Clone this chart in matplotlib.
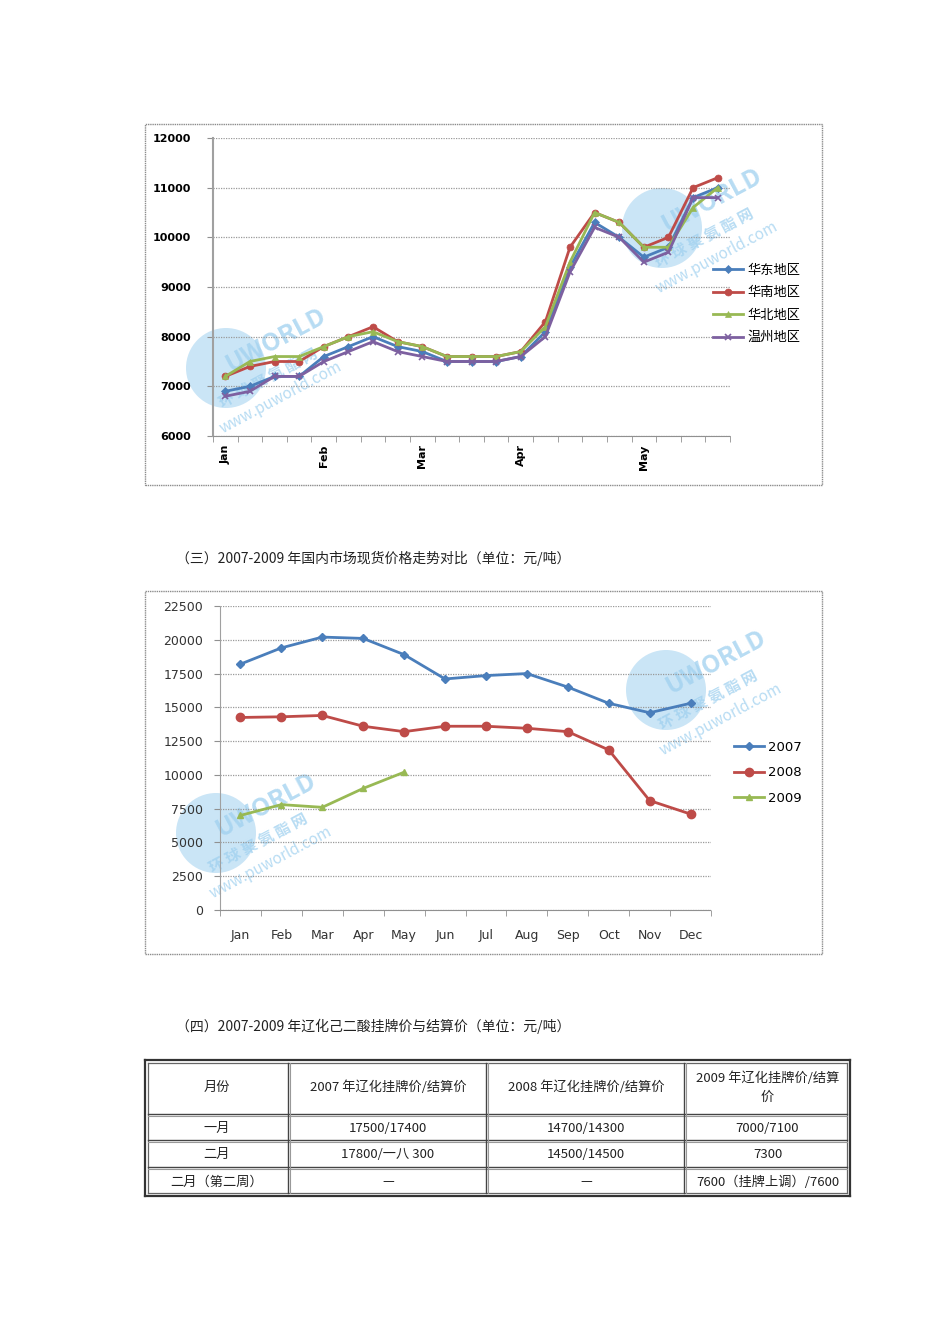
import matplotlib
matplotlib.use("Agg")
import matplotlib.pyplot as plt
from matplotlib.patches import Rectangle, Ellipse
from matplotlib.lines import Line2D

plt.rcParams['font.family'] = ['Noto Sans CJK SC', 'DejaVu Sans']

# ---------------- data ----------------
weeks = list(range(21))
week_labels = {0: "Jan", 4: "Feb", 8: "Mar", 12: "Apr", 17: "May"}
east = [6900, 7000, 7200, 7200, 7600, 7800, 8000, 7800, 7700, 7500, 7500,
        7500, 7600, 8100, 9400, 10300, 10000, 9600, 9800, 10800, 11000]
south = [7200, 7400, 7500, 7500, 7800, 8000, 8200, 7900, 7800, 7600, 7600,
         7600, 7700, 8300, 9800, 10500, 10300, 9800, 10000, 11000, 11200]
north = [7200, 7500, 7600, 7600, 7800, 8000, 8100, 7900, 7800, 7600, 7600,
         7600, 7700, 8200, 9500, 10500, 10300, 9800, 9800, 10600, 11000]
wenzhou = [6800, 6900, 7200, 7200, 7500, 7700, 7900, 7700, 7600, 7500, 7500,
           7500, 7600, 8000, 9300, 10200, 10000, 9500, 9700, 10800, 10800]
region_names = ["华东地区", "华南地区", "华北地区", "温州地区"]

months = ["Jan", "Feb", "Mar", "Apr", "May", "Jun", "Jul", "Aug", "Sep", "Oct", "Nov", "Dec"]
y2007 = [18200, 19400, 20200, 20100, 18900, 17100, 17350, 17500, 16500, 15300, 14600, 15300]
y2008 = [14250, 14300, 14400, 13600, 13200, 13600, 13600, 13450, 13200, 11850, 8100, 7100]
y2009 = [7000, 7800, 7600, 9000, 10200]
year_names = ["2007", "2008", "2009"]

caption3 = "（三）2007-2009 年国内市场现货价格走势对比（单位：元/吨）"
caption4 = "（四）2007-2009 年辽化己二酸挂牌价与结算价（单位：元/吨）"
table_header = ["月份", "2007 年辽化挂牌价/结算价", "2008 年辽化挂牌价/结算价", "2009 年辽化挂牌价/结算\n价"]
table_rows = [
    ["一月", "17500/17400", "14700/14300", "7000/7100"],
    ["二月", "17800/一八 300", "14500/14500", "7300"],
    ["二月（第二周）", "—", "—", "7600（挂牌上调）/7600"],
]

# ---------------- style ----------------
BLUE = "#4a7ebb"
RED = "#be4b48"
GREEN = "#98b954"
PURPLE = "#7d60a0"

W, H = 950, 1344
fig = plt.figure(figsize=(W / 100, H / 100), dpi=100)
fig.patch.set_facecolor("white")


def fx(px):
    return px / W


def fy(py):
    return 1 - py / H


def frame(x0, y0, x1, y1):
    fig.patches.append(Rectangle((fx(x0), fy(y1)), fx(x1) - fx(x0), fy(y0) - fy(y1),
                                 transform=fig.transFigure, fill=False,
                                 edgecolor="#8c8c8c", lw=1.0, linestyle=(0, (1, 0.6))))


def watermark(cx, cy):
    col = "#9fd0ef"
    fig.patches.append(Ellipse((fx(cx), fy(cy)), 80 / W, 80 / H, transform=fig.transFigure,
                               facecolor=col, edgecolor="none", alpha=0.55, zorder=-1))
    fig.text(fx(cx + 50), fy(cy - 28), "UWORLD", rotation=28, color=col, alpha=0.75,
             fontsize=18, fontweight="bold", ha="center", va="center", zorder=-1)
    fig.text(fx(cx + 42), fy(cy + 10), "环 球 聚 氨 酯 网", rotation=28, color=col, alpha=0.75,
             fontsize=11, fontweight="bold", ha="center", va="center", zorder=-1)
    fig.text(fx(cx + 55), fy(cy + 30), "www.puworld.com", rotation=28, color=col, alpha=0.75,
             fontsize=11, ha="center", va="center", zorder=-1)


# ---------------- chart 1 ----------------
frame(145, 124, 822, 485)
ax1 = fig.add_axes([fx(213), fy(436), fx(730) - fx(213), fy(138) - fy(436)])
ax1.set_facecolor("none")
series1 = [(east, BLUE, "D", 4), (south, RED, "o", 5), (north, GREEN, "^", 5), (wenzhou, PURPLE, "x", 5)]
for (vals, col, mk, ms), name in zip(series1, region_names):
    ax1.plot(weeks, vals, color=col, marker=mk, markersize=ms, lw=2.0, label=name,
             markeredgewidth=1.2 if mk == "x" else 0.5, zorder=3)
ax1.set_xlim(-0.5, 20.5)
ax1.set_ylim(6000, 12000)
ax1.set_yticks(range(6000, 12001, 1000))
ax1.set_yticklabels([str(v) for v in range(6000, 12001, 1000)], fontsize=8, fontweight="bold",
                    family="DejaVu Sans")
ax1.set_xticks(list(week_labels.keys()))
ax1.set_xticklabels(list(week_labels.values()), rotation=90, fontsize=8, fontweight="bold",
                    family="DejaVu Sans")
ax1.set_xticks([i - 0.5 for i in range(22)], minor=True)
ax1.tick_params(axis="x", which="major", length=0, pad=6)
ax1.tick_params(axis="x", which="minor", length=4, color="#909090", direction="out")
ax1.tick_params(axis="y", length=4, color="#909090", pad=12)
ax1.grid(axis="y", color="#9a9a9a", lw=0.9, linestyle=(0, (1, 1)))
for s in ["top", "right"]:
    ax1.spines[s].set_visible(False)
ax1.spines["left"].set_color("#a0a0a0")
ax1.spines["left"].set_linewidth(1.5)
ax1.spines["bottom"].set_color("#909090")
ax1.spines["bottom"].set_linestyle((0, (1, 1)))
ax1.legend(loc="center left", bbox_to_anchor=(fx(713), fy(304)), bbox_transform=fig.transFigure,
           frameon=False, fontsize=9.5, handlelength=2.3, handletextpad=0.3, labelspacing=0.72,
           borderpad=0, borderaxespad=0)
watermark(226, 368)
watermark(662, 228)

# ---------------- caption 3 ----------------
fig.text(fx(176), fy(558), caption3, fontsize=10, va="center", ha="left", color="#222222")

# ---------------- chart 2 ----------------
frame(145, 591, 822, 954)
ax2 = fig.add_axes([fx(220), fy(910), fx(711) - fx(220), fy(606) - fy(910)])
ax2.set_facecolor("none")
mx = list(range(len(months)))
ax2.plot(mx, y2007, color=BLUE, marker="D", markersize=4, lw=2.0, label=year_names[0], zorder=3)
ax2.plot(mx, y2008, color=RED, marker="o", markersize=6, lw=2.0, label=year_names[1], zorder=3)
ax2.plot(mx[:len(y2009)], y2009, color=GREEN, marker="^", markersize=5, lw=2.0, label=year_names[2], zorder=3)
ax2.set_xlim(-0.5, 11.5)
ax2.set_ylim(0, 22500)
ax2.set_yticks(range(0, 22501, 2500))
ax2.set_yticklabels([str(v) for v in range(0, 22501, 2500)], fontsize=9, color="#333333",
                    family="DejaVu Sans")
ax2.set_xticks(mx)
ax2.set_xticklabels(months, fontsize=9, color="#333333", family="DejaVu Sans")
ax2.set_xticks([i - 0.5 for i in range(13)], minor=True)
ax2.tick_params(axis="x", which="major", length=0, pad=14)
ax2.tick_params(axis="x", which="minor", length=4, color="#909090")
ax2.tick_params(axis="y", length=4, color="#909090", pad=8)
ax2.grid(axis="y", color="#9a9a9a", lw=0.9, linestyle=(0, (1, 1)))
for s in ["top", "right"]:
    ax2.spines[s].set_visible(False)
ax2.spines["left"].set_color("#a0a0a0")
ax2.spines["left"].set_linestyle((0, (1, 1)))
ax2.spines["bottom"].set_color("#909090")
ax2.spines["bottom"].set_linestyle((0, (1, 1)))
ax2.legend(loc="center left", bbox_to_anchor=(fx(734), fy(773)), bbox_transform=fig.transFigure,
           frameon=False, fontsize=9.5, handlelength=2.3, handletextpad=0.3, labelspacing=0.95,
           borderpad=0, borderaxespad=0, prop={"family": "DejaVu Sans", "size": 9.5})
watermark(666, 690)
watermark(216, 833)

# ---------------- caption 4 ----------------
fig.text(fx(176), fy(1026), caption4, fontsize=10, va="center", ha="left", color="#222222")

# ---------------- table ----------------
col_x = [145, 289, 487, 685, 850]
row_y = [1060, 1115, 1141, 1168, 1196]


def hline(y, x0, x1, color, lw):
    fig.add_artist(Line2D([fx(x0), fx(x1)], [fy(y), fy(y)], transform=fig.transFigure, color=color, lw=lw))


def vline(x, y0, y1, color, lw):
    fig.add_artist(Line2D([fx(x), fx(x)], [fy(y0), fy(y1)], transform=fig.transFigure, color=color, lw=lw))


# outer double border
hline(row_y[0], col_x[0], col_x[-1], "#333333", 1.6)
hline(row_y[-1], col_x[0], col_x[-1], "#333333", 1.6)
vline(col_x[0], row_y[0], row_y[-1], "#333333", 1.6)
vline(col_x[-1], row_y[0], row_y[-1], "#333333", 1.6)
hline(row_y[0] + 3, col_x[0] + 3, col_x[-1] - 3, "#666666", 0.9)
hline(row_y[-1] - 3, col_x[0] + 3, col_x[-1] - 3, "#666666", 0.9)
vline(col_x[0] + 3, row_y[0] + 3, row_y[-1] - 3, "#666666", 0.9)
vline(col_x[-1] - 3, row_y[0] + 3, row_y[-1] - 3, "#666666", 0.9)
# inner lines
for y in row_y[1:-1]:
    hline(y - 1, col_x[0] + 3, col_x[-1] - 3, "#444444", 1.0)
    hline(y + 1, col_x[0] + 3, col_x[-1] - 3, "#999999", 0.8)
for x in col_x[1:-1]:
    vline(x - 1, row_y[0] + 3, row_y[-1] - 3, "#444444", 1.0)
    vline(x + 1, row_y[0] + 3, row_y[-1] - 3, "#999999", 0.8)

all_rows = [table_header] + table_rows
for r, row in enumerate(all_rows):
    yc = (row_y[r] + row_y[r + 1]) / 2
    for c, txt in enumerate(row):
        xc = (col_x[c] + col_x[c + 1]) / 2
        fig.text(fx(xc), fy(yc), txt, fontsize=9.5, ha="center", va="center",
                 color="#222222", linespacing=1.6)

fig.savefig("out.png", dpi=100, facecolor="white")
